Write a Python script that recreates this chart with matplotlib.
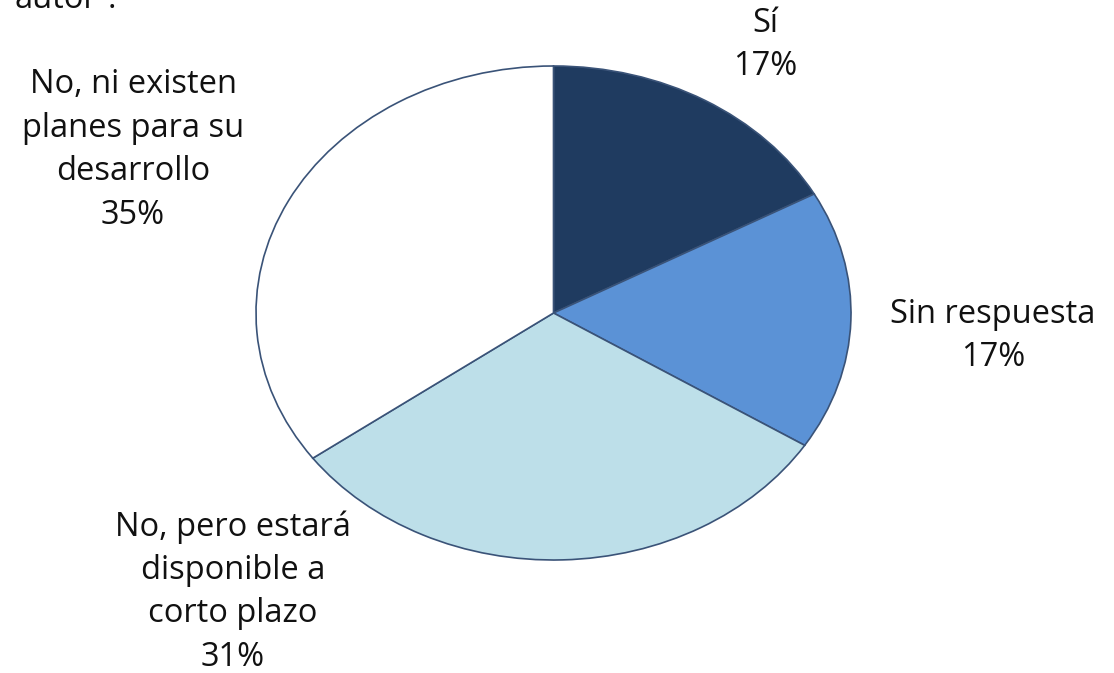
import matplotlib.pyplot as plt

labels = ['Sí', 'Sin respuesta', 'No, pero estará\ndisponible a\ncorto plazo',
          'No, ni existen\nplanes para su\ndesarrollo']
shares = [17, 17, 31, 35]
colors = ['#1F3B60', '#5B92D6', '#BDDFE9', '#FFFFFF']

# label anchor points in pixels (x, y from top)
label_pos = [(765, 45), (993, 336), (233, 592), (133, 150)]

W, H = 1114, 673
fig = plt.figure(figsize=(W / 100, H / 100), dpi=100)
fig.patch.set_facecolor('white')

# ellipse box of the pie, in pixels
left, right, top, bottom = 256, 851, 66, 560
ax = fig.add_axes([left / W, 1 - bottom / H, (right - left) / W, (bottom - top) / H])
ax.pie(shares, colors=colors, startangle=90, counterclock=False, radius=1,
       wedgeprops=dict(edgecolor='#3A5378', linewidth=1.2))
ax.set_aspect('auto')
ax.set_xlim(-1, 1)
ax.set_ylim(-1, 1)
ax.axis('off')

for lab, p, (px, py) in zip(labels, shares, label_pos):
    fig.text(px / W, 1 - py / H, '{}\n{}%'.format(lab, p), ha='center', va='center',
             fontsize=23.5, family='Open Sans', linespacing=1.42, color='#111111')

# cut-off text at the top
fig.text(14 / W, 1 - 8 / H, 'autor”.', ha='left', va='baseline', fontsize=23.5,
         family='Open Sans', color='#111111')

fig.savefig('out.png', dpi=100)
